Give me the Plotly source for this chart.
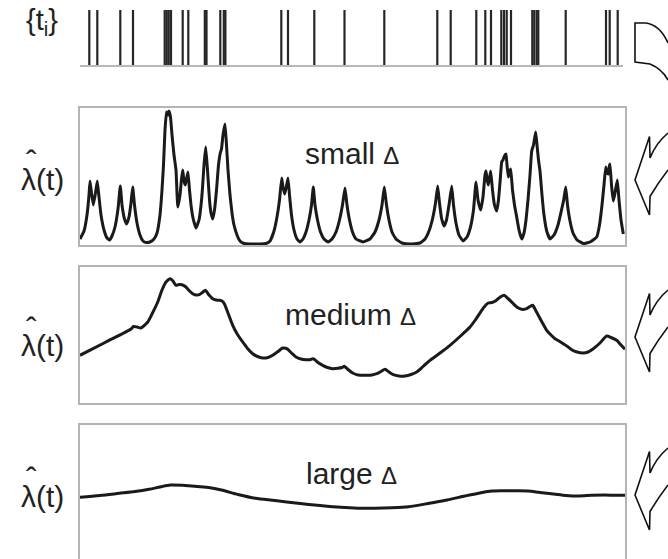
import plotly.graph_objects as go

W, H = 668, 559

# ---------------- data (time in arbitrary units, rates in arbitrary units) -------------
spike_times = [89.3, 97.3, 120.3, 133.0, 164.7, 166.7, 168.7, 171.0, 182.7, 188.3,
               204.8, 206.5, 220.3, 223.8, 225.4, 281.3, 288.0, 314.3, 344.5, 384.3,
               437.3, 450.7, 476.3, 485.3, 491.0, 501.3, 504.0, 506.7, 511.0, 532.3,
               534.3, 536.7, 538.3, 565.7, 606.0, 609.7, 617.7]

small_t = [80, 84, 87, 89, 90, 91.5, 93.3, 95.5, 97.3, 99, 101, 104, 107, 109.5, 112, 115, 118,
           120.3, 122, 124.5, 126.7, 129, 131, 132.7, 134.5, 137, 140, 143, 146, 150, 154, 157,
           160, 162, 163.5, 165, 166.5, 168, 169, 170.5, 172, 174, 176, 177.8, 180, 181.5, 182.7,
           184, 185.3, 186.5, 188, 189.5, 191, 193, 196, 199, 202, 204, 205.7, 207.5, 209.5, 211,
           212.7, 214.5, 216.5, 218.5, 220.3, 221.5, 223, 225, 226.5, 228, 230, 232, 234, 237,
           240, 244, 250, 260, 266, 270, 274, 277, 279.5, 281.7, 283, 284.7, 286.3, 288, 289.5,
           291.5, 294, 297, 300, 303, 306, 309, 311.5, 313.3, 315, 317.5, 320.5, 324, 328.3,
           332, 336, 339.5, 342.5, 345, 347, 349.5, 352.5, 356, 363, 370, 375, 379, 382, 384.3,
           386.5, 389, 392, 396, 402, 410, 420, 425, 429, 432.5, 435.5, 437.7, 439.5, 441.5,
           444, 446.5, 449, 451.7, 453.5, 456, 459, 463, 467, 470.5, 473.5, 476, 478, 480.7,
           483, 485, 486, 487, 488.3, 489.5, 490.7, 492.5, 494.5, 496.7, 498.5, 500.2, 501.7,
           503, 504, 505, 506, 507, 508.3, 509.5, 510.7, 512.5, 514.5, 516.7, 519, 521.7, 524,
           526, 528, 530, 531.7, 533.5, 535.7, 537, 538.5, 540, 542, 544, 546.7, 550, 554, 558,
           561.5, 563.7, 565.7, 567.5, 570, 573, 577, 583.3, 590, 596.7, 599.5, 602, 604, 605.7,
           607, 608.3, 609.2, 610, 611.5, 613.3, 615, 617.3, 619, 621, 623.3]
small_rate = [6, 14, 30, 50, 64, 52, 40, 52, 64, 48, 30, 15, 7, 5, 9, 18, 36,
              59, 40, 26, 21, 28, 42, 58, 40, 22, 10, 4, 2.5, 3, 6, 12,
              30, 55, 80, 115, 133, 130, 134, 128, 110, 90, 75, 38, 50, 66, 75,
              64, 60, 66, 73, 55, 40, 27, 17, 25, 50, 80, 98, 75, 45, 32,
              26, 35, 55, 80, 92, 96, 110, 121, 100, 75, 50, 32, 20, 10,
              4, 1.5, 1, 1, 1.5, 4, 14, 28, 45, 67, 58, 51, 58, 67, 50,
              30, 15, 6, 3, 6, 13, 25, 40, 58, 40, 25, 13, 6, 3,
              6, 13, 25, 40, 57, 40, 25, 13, 6, 3, 6, 13, 25, 40, 58,
              40, 25, 13, 6, 2, 1, 2, 6, 14, 26, 42, 59, 42, 27,
              19, 25, 40, 59, 40, 22, 10, 4, 8, 18, 35, 63, 45, 35,
              48, 70, 74, 66, 60, 67, 74, 55, 40, 34, 45, 65, 83,
              85, 88, 90, 91, 80, 68, 73, 76, 55, 40, 28, 15, 6, 12,
              25, 45, 70, 94, 100, 113, 100, 85, 74, 50, 30, 14, 6, 10, 20,
              35, 45, 58, 40, 24, 12, 5, 1.5, 3, 8, 20, 40, 60, 78,
              72, 71, 78, 81, 60, 44, 52, 65, 45, 25, 11]

medium_t = [80, 106, 131, 133.5, 137, 141, 147.7, 152, 157.7, 162, 166, 170.3, 173, 176, 179,
            182, 186, 189.5, 192.7, 196, 199.3, 203, 205.3, 209, 212.7, 216, 219.3, 222, 224.3,
            228, 232.7, 237.5, 242.7, 247.5, 252.7, 257.5, 262.7, 268, 272.7, 278, 282.7, 285.5,
            287.7, 292, 296, 301, 306, 310, 313.3, 318, 322.7, 327.5, 332.7, 338, 342, 344.3, 348,
            352.7, 358, 366.7, 372, 376.7, 381, 385, 389, 393.3, 399, 405, 411, 416.7, 423, 430,
            440, 450, 460, 470, 476, 481.7, 485, 488.3, 492, 495, 499, 504, 508, 513.3, 517.5,
            521.7, 526.7, 530, 532.7, 535.5, 538.3, 542.5, 546.7, 551, 555, 559, 563.3, 567.5,
            571.7, 577, 583.3, 588, 593.3, 600, 606.7, 611, 616.7, 620.5, 625]
medium_rate = [47.7, 61, 74, 76.5, 76, 75, 81, 89, 101, 113, 121, 124.3, 122, 117.7, 118.5,
               118.3, 116, 112, 109.3, 108, 108.3, 111, 112.7, 108, 104.3, 103, 102.7, 102, 99.3,
               90, 77.7, 68.5, 61, 54.5, 49.3, 46.5, 45, 45.5, 47.7, 51.5, 55, 54.7,
               53.7, 49.5, 46, 44, 43.3, 43.3, 44.3, 40.5, 37.7, 35.5, 34.3, 34.7, 35.5, 36.7, 33.5,
               30, 28, 27.7, 28, 29.3, 31.5, 33.7, 31, 28.3, 27, 27, 28.5, 31, 36.5, 42.7,
               50, 57.7, 66.5, 76, 84, 92.7, 97, 100, 100.5, 101.7, 105, 107.7, 104.5, 99.3, 95.5,
               93.7, 94.3, 96.5, 97.7, 93, 87.7, 80, 72.7, 68, 64.3, 62, 59.3, 56.5,
               53.3, 51, 50, 51, 54.3, 60, 67, 65.5, 62.7, 58.5, 53.7]

large_t = [80, 100, 119.2, 135, 149, 160, 170.3, 185, 200, 210, 221.4, 238, 255.4, 275, 298,
           320, 340.6, 358, 374.6, 392, 408.7, 428, 447, 465, 481, 492, 502.4, 515, 528, 540,
           553.5, 566, 579, 592, 604.6, 615, 625]
large_rate = [64.7, 66.5, 68.7, 70.5, 72.7, 75, 77, 76.5, 75.3, 74.2, 72, 67.5, 63.7, 61.5, 58.7,
              56.5, 54.7, 53.8, 53.7, 54.2, 55.3, 58.5, 62, 66, 69.3, 71, 71.3, 71.2, 71, 69.5,
              68, 66.5, 66, 66.7, 67, 66.7, 66.7]

panel_labels = ["small Δ", "medium Δ", "large Δ"]
spike_label = "{t<sub>i</sub>}"
rate_label = "λ(t)"
hat_label = "ˆ"

# ---------------- styling ----------------
FONT = "Liberation Sans, Arial, Helvetica, sans-serif"
TXT = "#222222"
BOX = "#b4b4b4"
CURVE = "#1a1a1a"


def px(x):
    return x / W


def py(y):
    return 1 - y / H


fig = go.Figure()

# spike raster
sx, sy = [], []
for t in spike_times:
    sx += [t, t, None]
    sy += [0, 1, None]
fig.add_trace(go.Scatter(x=sx, y=sy, mode="lines", line=dict(color="#262626", width=2.2),
                         xaxis="x", yaxis="y", hoverinfo="skip"))

curves = [(small_t, small_rate, "x2", "y2", 0.35),
          (medium_t, medium_rate, "x3", "y3", 0.6),
          (large_t, large_rate, "x4", "y4", 0.8)]
for t, r, xa, ya, sm in curves:
    fig.add_trace(go.Scatter(x=t, y=r, mode="lines", xaxis=xa, yaxis=ya,
                             line=dict(color=CURVE, width=3, shape="spline", smoothing=sm),
                             hoverinfo="skip"))

hidden = dict(showgrid=False, zeroline=False, showticklabels=False, ticks="", fixedrange=True)
layout = dict(
    width=W, height=H, margin=dict(l=0, r=0, t=0, b=0),
    paper_bgcolor="white", plot_bgcolor="rgba(0,0,0,0)", showlegend=False,
    xaxis=dict(domain=[px(80), px(623)], range=[80, 623], anchor="y",
               showline=True, linecolor="#b8b8b8", linewidth=2, **hidden),
    yaxis=dict(domain=[py(65), py(10)], range=[0, 1], anchor="x", visible=False),
    xaxis2=dict(domain=[px(80), px(625)], range=[80, 625], anchor="y2",
                showline=True, mirror=True, linecolor=BOX, linewidth=1.5, **hidden),
    yaxis2=dict(domain=[py(245), py(108)], range=[0, 137], anchor="x2",
                showline=True, mirror=True, linecolor=BOX, linewidth=1.5, **hidden),
    xaxis3=dict(domain=[px(80), px(625)], range=[80, 625], anchor="y3",
                showline=True, mirror=True, linecolor=BOX, linewidth=1.5, **hidden),
    yaxis3=dict(domain=[py(403), py(267)], range=[0, 136], anchor="x3",
                showline=True, mirror=True, linecolor=BOX, linewidth=1.5, **hidden),
    xaxis4=dict(domain=[px(80), px(625)], range=[80, 625], anchor="y4", side="top",
                showline=True, linecolor=BOX, linewidth=1.5, **hidden),
    yaxis4=dict(domain=[0, py(425)], range=[3, 137], anchor="x4",
                showline=True, mirror=True, linecolor=BOX, linewidth=1.5, **hidden),
)
fig.update_layout(**layout)

ann = []
# spike label
ann.append(dict(x=px(42), y=py(22), xref="paper", yref="paper", text=spike_label,
                xanchor="center", yanchor="middle",
                showarrow=False, font=dict(family=FONT, size=29, color=TXT)))
# rate labels with hats
for yc in [179, 346, 496]:
    ann.append(dict(x=px(42), y=py(yc), xref="paper", yref="paper", text=rate_label,
                    xanchor="center", yanchor="middle",
                    showarrow=False, font=dict(family=FONT, size=30, color=TXT)))
    ann.append(dict(x=px(31), y=py(yc - 17), xref="paper", yref="paper", text=hat_label,
                    xanchor="center", yanchor="middle",
                    showarrow=False, font=dict(family=FONT, size=32, color=TXT)))
# panel labels
for (xl, yc), lab in zip([(303, 153), (283, 314), (304, 473)], panel_labels):
    word, delta = lab.split(" ")
    ann.append(dict(x=px(xl), y=py(yc), xref="paper", yref="paper", xanchor="left",
                    yanchor="middle",
                    text=word + " <span style='font-size:24px'>" + delta + "</span>",
                    showarrow=False, font=dict(family=FONT, size=30, color=TXT)))
fig.update_layout(annotations=ann)


def path_px(cmds):
    out = []
    for c in cmds:
        if isinstance(c, str):
            out.append(c)
        else:
            out.append(f"{px(c[0]):.5f},{py(c[1]):.5f}")
    return " ".join(out)


shapes = []
# top curved piece leaving the spike raster
top_path = path_px(["M", (668, 43), "Q", (660, 25), (646, 23), "L", (635, 23), "L", (635, 62),
                    "L", (650, 64), "Q", (662, 69), (668, 80)])
shapes.append(dict(type="path", path=top_path, xref="paper", yref="paper",
                   line=dict(color="#111", width=1.6), fillcolor="rgba(0,0,0,0)"))
for ty in [180, 337, 495]:
    p = path_px(["M", (668, ty - 47), "Q", (656, ty - 37), (650, ty - 22),
                 "L", (649.5, ty - 43.5), "L", (635, ty), "L", (649.5, ty + 35),
                 "L", (650, ty + 16.5), "Q", (658, ty + 3), (668, ty - 10)])
    shapes.append(dict(type="path", path=p, xref="paper", yref="paper",
                       line=dict(color="#111", width=1.6), fillcolor="rgba(0,0,0,0)"))
fig.update_layout(shapes=shapes)

fig.write_html("out.html", config={"displayModeBar": False},
               post_script="document.body.style.margin='0';")
